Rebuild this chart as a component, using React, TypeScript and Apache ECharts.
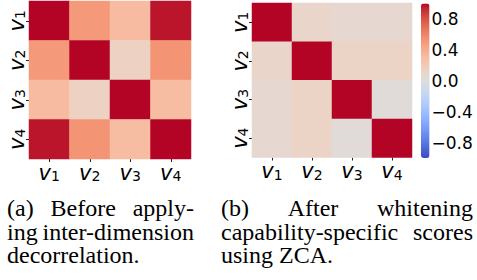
import React, { useEffect, useRef } from 'react';
import * as echarts from 'echarts';

const dims = ['v1', 'v2', 'v3', 'v4'];
const beforeCorr = [
  [1.0, 0.5, 0.31, 0.97],
  [0.5, 1.0, 0.14, 0.53],
  [0.31, 0.14, 1.0, 0.3],
  [0.97, 0.53, 0.3, 1.0],
];
const afterCorr = [
  [1.0, 0.1, 0.07, 0.07],
  [0.1, 1.0, 0.12, 0.12],
  [0.07, 0.12, 1.0, 0.02],
  [0.07, 0.12, 0.02, 1.0],
];
const colorbarTicks = [-0.8, -0.4, 0, 0.4, 0.8];
const coolwarm = [
  '#3b4cc0', '#445acc', '#4d68d7', '#5775e1', '#6282ea', '#6c8ef1', '#779af7', '#82a5fb',
  '#8db0fe', '#98b9ff', '#a3c2ff', '#aec9fd', '#b8d0f9', '#c2d5f4', '#ccd9ee', '#d5dbe6',
  '#dddddd', '#e5d8d1', '#ecd3c5', '#f1ccb9', '#f5c4ad', '#f7bba0', '#f7b194', '#f7a687',
  '#f49a7b', '#f18d6f', '#ec7f63', '#e57058', '#de604d', '#d55042', '#cb3e38', '#c0282f',
  '#b40426',
];
const captionA = [['(a)', 'Before', 'apply-'], ['ing', 'inter-dimension'], ['decorrelation.']];
const captionB = [['(b)', 'After', 'whitening'], ['capability-specific', 'scores'], ['using', 'ZCA.']];

function toCells(m: number[][]) {
  const out: number[][] = [];
  m.forEach((row, i) => row.forEach((v, j) => out.push([j, i, v])));
  return out;
}

const labelRich = {
  v: { fontFamily: 'DejaVu Sans', fontStyle: 'italic', fontSize: 21, color: '#000', lineHeight: 24, verticalAlign: 'bottom' },
  s: { fontFamily: 'DejaVu Sans', fontSize: 14, color: '#000', lineHeight: 12, verticalAlign: 'bottom' },
};
const fmtLabel = (val: string) => `{v|v}{s|${val.slice(1)}}`;
const fmtTick = (v: number) => (v < 0 ? '\u2212' + Math.abs(v).toFixed(1) : v.toFixed(1));

const CAP_FONT = '24px "Liberation Serif"';

function buildCaption(lines: string[][], left: number, right: number, baselines: number[], ctx: CanvasRenderingContext2D) {
  const els: any[] = [];
  ctx.font = CAP_FONT;
  const space = ctx.measureText(' ').width;
  lines.forEach((words, li) => {
    const widths = words.map((w) => ctx.measureText(w).width);
    const justify = li < lines.length - 1 && words.length > 1;
    const total = widths.reduce((a, b) => a + b, 0);
    const gap = justify ? (right - left - total) / (words.length - 1) : space;
    let x = left;
    words.forEach((w, wi) => {
      els.push({
        type: 'text',
        x,
        y: baselines[li] - 8,
        style: { text: w, font: CAP_FONT, fill: '#000', align: 'left', verticalAlign: 'middle' },
        silent: true,
      });
      x += widths[wi] + gap;
    });
  });
  return els;
}

function axisPair(gridIndex: number) {
  const tick = { show: true, alignWithLabel: true, length: 3, lineStyle: { color: '#222', width: 1 } };
  return {
    x: {
      type: 'category', gridIndex, data: dims, position: 'bottom',
      axisLine: { show: false }, axisTick: tick, splitLine: { show: false },
      axisLabel: { formatter: fmtLabel, rich: labelRich, margin: 0, interval: 0 },
    },
    y: {
      type: 'category', gridIndex, data: dims, inverse: true,
      axisLine: { show: false }, axisTick: tick, splitLine: { show: false },
      axisLabel: { formatter: fmtLabel, rich: labelRich, margin: 2, rotate: 90, interval: 0 },
    },
  };
}

export default function App() {
  const ref = useRef<HTMLDivElement>(null);
  useEffect(() => {
    if (!ref.current) return;
    const chart = echarts.init(ref.current, undefined, { renderer: 'svg' });
    const ctx = document.createElement('canvas').getContext('2d') as CanvasRenderingContext2D;
    const a0 = axisPair(0);
    const a1 = axisPair(1);
    const graphic = [
      ...buildCaption(captionA, 7, 194, [215.5, 239.5, 263], ctx),
      ...buildCaption(captionB, 221, 473, [215.5, 239.5, 263], ctx),
    ];
    chart.setOption({
      animation: false,
      backgroundColor: '#fff',
      grid: [
        { left: 29, top: 1, width: 162, height: 158 },
        { left: 252, top: 3, width: 160, height: 154.5 },
        { left: 421, top: 3.5, width: 8.5, height: 154.5 },
      ],
      xAxis: [a0.x, a1.x, { type: 'value', gridIndex: 2, show: false }],
      yAxis: [
        a0.y,
        a1.y,
        {
          type: 'value', gridIndex: 2, min: -1, max: 1, position: 'right',
          axisLine: { show: false }, splitLine: { show: false },
          axisTick: { show: true, length: 3, customValues: colorbarTicks, lineStyle: { color: '#222' } },
          axisLabel: { customValues: colorbarTicks, formatter: fmtTick, fontSize: 17, fontFamily: 'DejaVu Sans', color: '#000', margin: 2 },
        },
      ],
      visualMap: {
        type: 'continuous', seriesIndex: [0, 1], min: -1, max: 1, calculable: false,
        left: 421, top: 3.5, itemWidth: 8.5, itemHeight: 154.5, padding: 0,
        inRange: { color: coolwarm }, hoverLink: false,
      },
      series: [
        { type: 'heatmap', xAxisIndex: 0, yAxisIndex: 0, data: toCells(beforeCorr), itemStyle: { borderWidth: 0 }, emphasis: { disabled: true } },
        { type: 'heatmap', xAxisIndex: 1, yAxisIndex: 1, data: toCells(afterCorr), itemStyle: { borderWidth: 0 }, emphasis: { disabled: true } },
        { type: 'line', xAxisIndex: 2, yAxisIndex: 2, data: [], silent: true },
      ],
      graphic,
    });
    return () => chart.dispose();
  }, []);
  return <div ref={ref} style={{ position: 'fixed', left: 0, top: 0, width: 477, height: 280 }} />;
}
